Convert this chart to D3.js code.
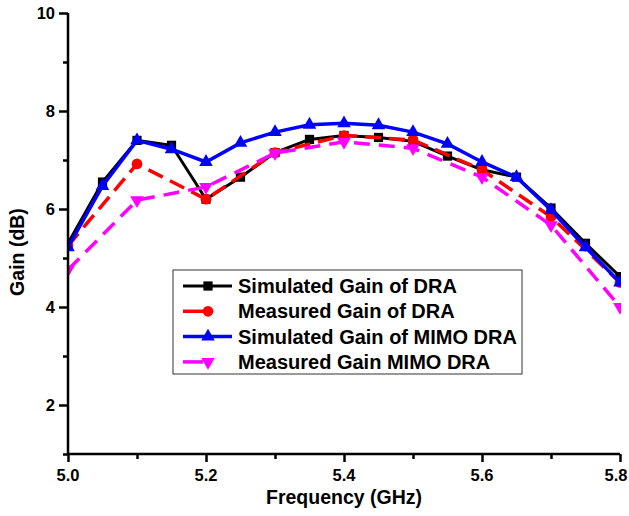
<!DOCTYPE html>
<html lang="en">
<head>
<meta charset="UTF-8">
<title>Gain vs Frequency</title>
<script src="https://d3js.org/d3.v7.min.js"></script>
<style>
    body { margin: 0; background: #fff; }
    svg { display: block; font-family: "Liberation Sans", Arial, sans-serif; }
    .tick-label { font-size: 16.5px; font-weight: bold; }
    .axis-title { font-size: 19.5px; font-weight: bold; }
    .legend-text { font-size: 20px; font-weight: bold; }
</style>
</head>
<body>
<svg width="629" height="516"></svg>
<script>
    // Data
    const freqSim = [5.0, 5.05, 5.1, 5.15, 5.2, 5.25, 5.3, 5.35, 5.4, 5.45, 5.5, 5.55, 5.6, 5.65, 5.7, 5.75, 5.8];
    const simDRA  = [5.3, 6.55, 7.4, 7.3, 6.2, 6.65, 7.15, 7.42, 7.5, 7.46, 7.38, 7.08, 6.8, 6.65, 6.02, 5.3, 4.62];
    const simMIMO = [5.22, 6.47, 7.4, 7.22, 6.96, 7.35, 7.57, 7.72, 7.75, 7.71, 7.57, 7.33, 6.96, 6.65, 5.98, 5.22, 4.5];
    const freqMeas = [5.0, 5.1, 5.2, 5.3, 5.4, 5.5, 5.6, 5.7, 5.8];
    const measDRA  = [5.25, 6.92, 6.2, 7.15, 7.5, 7.41, 6.8, 5.84, 4.5];
    const measMIMO = [4.76, 6.18, 6.45, 7.14, 7.37, 7.24, 6.65, 5.67, 4.0];

    const xTicks = [5.0, 5.2, 5.4, 5.6, 5.8];
    const yTicks = [2, 4, 6, 8, 10];

    const margin = {top: 13, right: 9, bottom: 62, left: 68},
          width = 629 - margin.left - margin.right,
          height = 516 - margin.top - margin.bottom;

    const svg = d3.select("svg");
    const g = svg.append("g").attr("transform", `translate(${margin.left},${margin.top})`);

    const x = d3.scaleLinear().domain([5.0, 5.8]).range([0, width]);
    const y = d3.scaleLinear().domain([1, 10]).range([height, 0]);

    g.append("clipPath").attr("id", "plot-clip")
     .append("rect").attr("x", 0).attr("y", -2).attr("width", width + 1).attr("height", height + 2);

    const series = [
        {name: "Simulated Gain of DRA", xs: freqSim, ys: simDRA, color: "#000000", dash: null, marker: "square", lw: 3},
        {name: "Measured Gain of DRA", xs: freqMeas, ys: measDRA, color: "#ff0000", dash: "16,8", marker: "circle", lw: 3.5},
        {name: "Simulated Gain of MIMO DRA", xs: freqSim, ys: simMIMO, color: "#0000ff", dash: null, marker: "triangle", lw: 3.5},
        {name: "Measured Gain MIMO DRA", xs: freqMeas, ys: measMIMO, color: "#ff00ff", dash: "16,9", marker: "down", lw: 3.5}
    ];

    const symbols = {
        square: d3.symbol().type(d3.symbolSquare).size(85),
        circle: d3.symbol().type(d3.symbolCircle).size(90),
        triangle: d3.symbol().type(d3.symbolTriangle).size(80),
        down: d3.symbol().type(d3.symbolTriangle).size(80)
    };

    const line = d3.line().x(d => x(d[0])).y(d => y(d[1]));
    const plot = g.append("g").attr("clip-path", "url(#plot-clip)");

    series.forEach(s => {
        const pts = s.xs.map((f, i) => [f, s.ys[i]]);
        plot.append("path")
            .datum(pts)
            .attr("d", line)
            .attr("fill", "none")
            .attr("stroke", s.color)
            .attr("stroke-width", s.lw)
            .attr("stroke-dasharray", s.dash);
        plot.selectAll(null)
            .data(pts)
            .enter().append("path")
            .attr("d", symbols[s.marker])
            .attr("transform", d => `translate(${x(d[0])},${y(d[1])})` + (s.marker === "down" ? " rotate(180)" : ""))
            .attr("fill", s.color);
    });

    // Axes: major + minor ticks, outward
    const xAxis = g.append("g").attr("transform", `translate(0,${height})`);
    xAxis.call(d3.axisBottom(x).tickValues(d3.range(5.0, 5.81, 0.1)).tickSize(5).tickFormat(""));
    xAxis.call(a => a.selectAll(".tick").filter(d => xTicks.some(t => Math.abs(t - d) < 1e-6)).select("line").attr("y2", 8));
    xAxis.selectAll("line, path").attr("stroke", "#000").attr("stroke-width", 2.5);
    xAxis.select(".domain").attr("d", `M0,0H${width}`);

    const yAxis = g.append("g");
    yAxis.call(d3.axisLeft(y).tickValues(d3.range(1, 10.01, 1)).tickSize(5).tickFormat(""));
    yAxis.call(a => a.selectAll(".tick").filter(d => yTicks.includes(d)).select("line").attr("x2", -9));
    yAxis.selectAll("line, path").attr("stroke", "#000").attr("stroke-width", 2.5);
    yAxis.select(".domain").attr("d", `M0,${height}V0`);

    g.selectAll(".xlab").data(xTicks).enter().append("text")
     .attr("class", "tick-label")
     .attr("x", d => x(d)).attr("y", height + 27)
     .attr("dx", d => d === 5.8 ? -4 : 0)
     .attr("text-anchor", "middle")
     .text(d => d.toFixed(1));

    g.selectAll(".ylab").data(yTicks).enter().append("text")
     .attr("class", "tick-label")
     .attr("x", -13).attr("y", d => y(d) + 6)
     .attr("text-anchor", "end")
     .text(d => d);

    g.append("text").attr("class", "axis-title")
     .attr("x", 344 - margin.left).attr("y", 504 - margin.top)
     .attr("text-anchor", "middle")
     .text("Frequency (GHz)");

    g.append("text").attr("class", "axis-title")
     .attr("transform", `translate(${24 - margin.left},${252 - margin.top}) rotate(-90)`)
     .attr("text-anchor", "middle")
     .text("Gain (dB)");

    // Legend
    const legend = svg.append("g").attr("transform", "translate(173,270)");
    legend.append("rect")
        .attr("width", 349).attr("height", 104)
        .attr("fill", "#fff").attr("stroke", "#333").attr("stroke-width", 1);

    series.forEach((s, i) => {
        const ly = 16 + i * 25.3;
        const row = legend.append("g").attr("transform", `translate(0,${ly})`);
        const x1 = s.dash ? 30 : 59;
        row.append("line")
           .attr("x1", 10).attr("x2", x1).attr("y1", 0).attr("y2", 0)
           .attr("stroke", s.color).attr("stroke-width", s.lw);
        row.append("path")
           .attr("d", symbols[s.marker])
           .attr("transform", `translate(35,0)` + (s.marker === "down" ? " rotate(180)" : ""))
           .attr("fill", s.color);
        row.append("text").attr("class", "legend-text")
           .attr("x", 65).attr("y", 7)
           .text(s.name);
    });
</script>
</body>
</html>
